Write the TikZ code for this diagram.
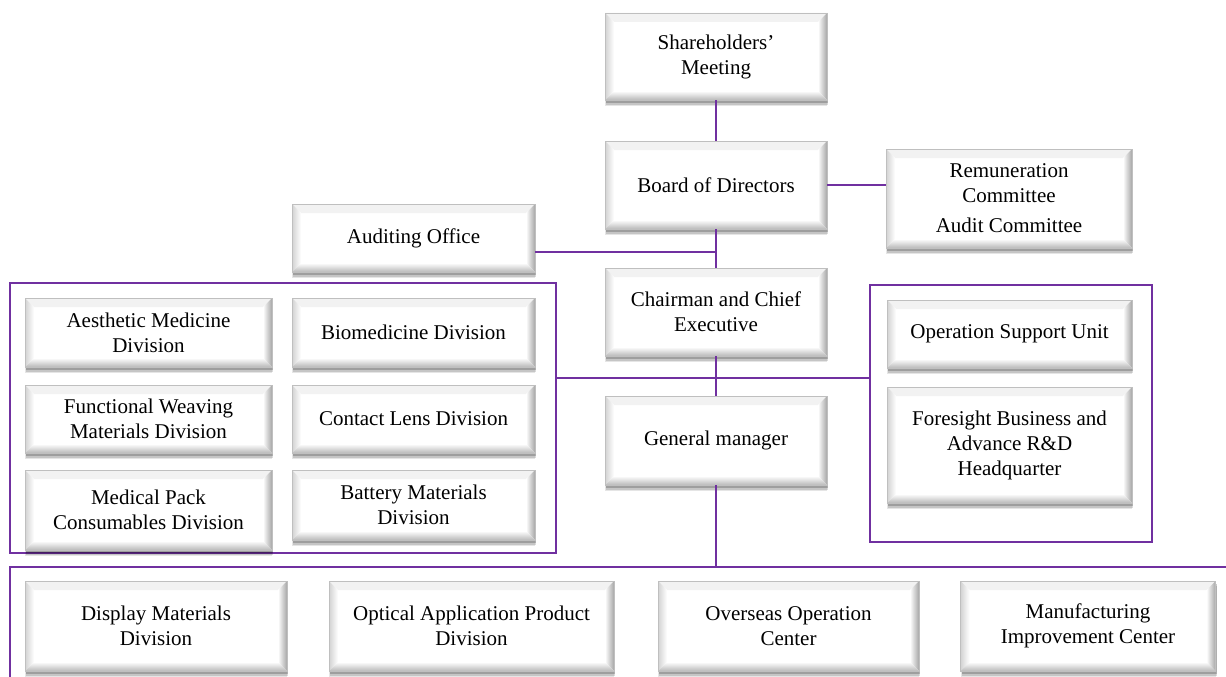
\documentclass[tikz,border=0pt]{standalone}
\usepackage{fontspec}
\setmainfont{Liberation Serif}
\usetikzlibrary{shadows,calc}
\definecolor{pur}{HTML}{7030A0}
\newcommand\bev{9pt}
\tikzset{
  box/.style={draw=gray!50, line width=0.6pt, fill=white, align=center, inner sep=0pt,
    font=\fontsize{21}{25}\selectfont,
    drop shadow={shadow xshift=0pt, shadow yshift=-6pt, opacity=0.10, fill=black},
    drop shadow={shadow xshift=1pt, shadow yshift=-4.5pt, opacity=0.14, fill=black},
    drop shadow={shadow xshift=1pt, shadow yshift=-3pt, opacity=0.2, fill=black},
    path picture={
      \coordinate (pnw) at (path picture bounding box.north west);
      \coordinate (pne) at (path picture bounding box.north east);
      \coordinate (psw) at (path picture bounding box.south west);
      \coordinate (pse) at (path picture bounding box.south east);
      \fill[gray!10] (pnw) -- (pne) -- ([shift={(-\bev,-\bev)}]pne) -- ([shift={(\bev,-\bev)}]pnw) -- cycle;
      \shade[left color=gray!35, right color=white] (pnw) -- ([shift={(\bev,-\bev)}]pnw) -- ([shift={(\bev,\bev)}]psw) -- (psw) -- cycle;
      \shade[left color=white, right color=gray!70] (pne) -- ([shift={(-\bev,-\bev)}]pne) -- ([shift={(-\bev,\bev)}]pse) -- (pse) -- cycle;
      \shade[top color=white, bottom color=gray!55] (psw) -- ([shift={(\bev,\bev)}]psw) -- ([shift={(-\bev,\bev)}]pse) -- (pse) -- cycle;
    }},
  grp/.style={draw=pur, line width=2pt, inner sep=0pt},
  link/.style={draw=pur, line width=2pt}
}
\begin{document}
\begin{tikzpicture}[x=1pt,y=-1pt]
\useasboundingbox (0,0) rectangle (1226,677);
\clip (0,0) rectangle (1226,677);

% group frames
\node[grp, minimum width=546pt, minimum height=270pt] (lf) at (283,418) {};
\node[grp, minimum width=282pt, minimum height=257pt] (rf) at (1011,413.5) {};
\node[grp, minimum width=1240pt, minimum height=140pt] (bf) at (630,637) {};

% boxes
\node[box, minimum width=222pt, minimum height=87pt] (sh) at (716,56.5) {Shareholders'\\Meeting};
\node[box, minimum width=222pt, minimum height=88pt] (bd) at (716,185) {Board of Directors};
\node[box, minimum width=246pt, minimum height=99pt] (rem) at (1009,198.5) {Remuneration\\Committee\\[5pt]Audit Committee};
\node[box, minimum width=243pt, minimum height=68pt] (aud) at (413.5,238) {Auditing Office};
\node[box, minimum width=222pt, minimum height=88pt] (ch) at (716,312) {Chairman and Chief\\Executive};
\node[box, minimum width=222pt, minimum height=89pt] (gm) at (716,440.5) {General manager};

\node[box, minimum width=247pt, minimum height=69pt] (aes) at (148.5,332.5) {Aesthetic Medicine\\Division};
\node[box, minimum width=243pt, minimum height=69pt] (bio) at (413.5,332.5) {Biomedicine Division};
\node[box, minimum width=247pt, minimum height=68pt] (fun) at (148.5,419) {Functional Weaving\\Materials Division};
\node[box, minimum width=243pt, minimum height=68pt] (con) at (413.5,419) {Contact Lens Division};
\node[box, minimum width=247pt, minimum height=80pt] (med) at (148.5,510) {Medical Pack\\Consumables Division};
\node[box, minimum width=243pt, minimum height=70pt] (bat) at (413.5,505) {Battery Materials\\Division};

\node[box, minimum width=245pt, minimum height=68pt] (osu) at (1009.5,334) {Operation Support Unit};
\node[box, minimum width=245pt, minimum height=116pt] (fore) at (1009.5,445) {Foresight Business and\\Advance R\&D\\Headquarter};

\node[box, minimum width=262pt, minimum height=90pt] (dis) at (156,626) {Display Materials\\Division};
\node[box, minimum width=285pt, minimum height=90pt] (opt) at (471.5,626) {Optical Application Product\\Division};
\node[box, minimum width=261pt, minimum height=90pt] (ove) at (788.5,626) {Overseas Operation\\Center};
\node[box, minimum width=255pt, minimum height=90pt] (man) at (1088,626) {Manufacturing\\Improvement Center};

% connectors
\coordinate (ja) at (716,252);
\coordinate (jb) at (716,378);
\draw[link] (sh.south) -- (bd.north);
\draw[link] (bd.east) -- (rem.west |- bd.east);
\draw[link] (bd.south) -- (ch.north);
\draw[link] (aud.east |- ja) -- (ja);
\draw[link] (ch.south) -- (gm.north);
\draw[link] (lf.east |- jb) -- (rf.west |- jb);
\draw[link] (gm.south) -- (gm.south |- bf.north);
\end{tikzpicture}
\end{document}
